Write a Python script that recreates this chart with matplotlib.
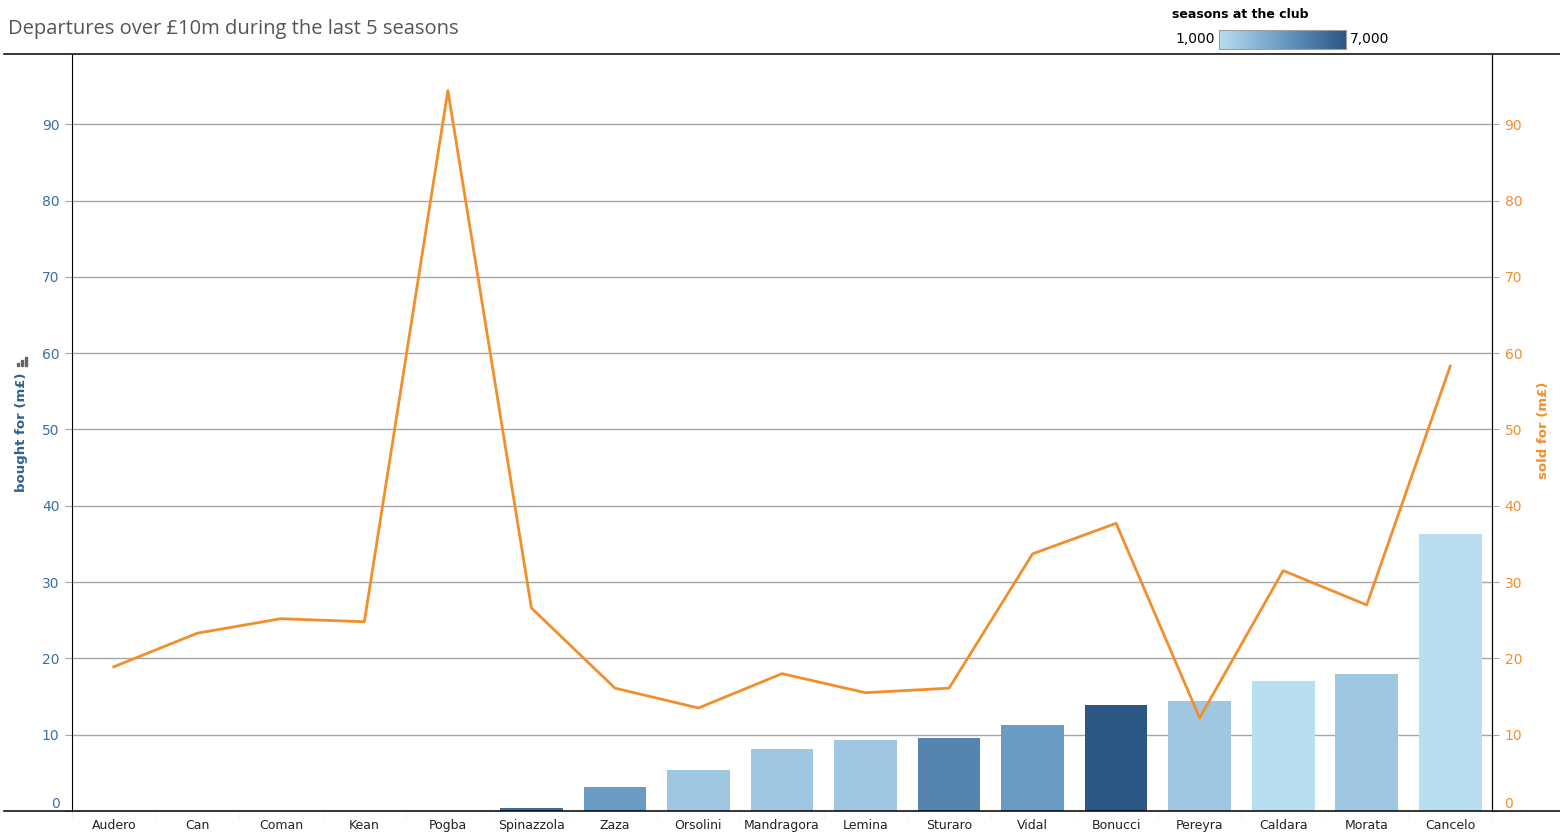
import numpy as np
import matplotlib
matplotlib.use('Agg')
import matplotlib.pyplot as plt
from matplotlib.colors import LinearSegmentedColormap, Normalize
from matplotlib.lines import Line2D
from matplotlib.patches import Rectangle

# Data
players = ['Audero', 'Can', 'Coman', 'Kean', 'Pogba', 'Spinazzola', 'Zaza', 'Orsolini',
           'Mandragora', 'Lemina', 'Sturaro', 'Vidal', 'Bonucci', 'Pereyra', 'Caldara',
           'Morata', 'Cancelo']
bought = [0, 0, 0, 0, 0, 0.4, 3.1, 5.4, 8.1, 9.3, 9.6, 11.3, 13.9, 14.4, 17.0, 18.0, 36.3]
sold = [18.9, 23.3, 25.2, 24.8, 94.4, 26.6, 16.1, 13.5, 18.0, 15.5, 16.1, 33.7, 37.7,
        12.2, 31.5, 27.0, 58.3]
seasons = [np.nan, np.nan, np.nan, np.nan, np.nan, 6000, 4000, 2000, 2000, 2000, 5000,
           4000, 7000, 2000, 1000, 2000, 1000]
yticks = [0, 10, 20, 30, 40, 50, 60, 70, 80, 90]

blue_txt = '#3b6fa6'
orange = '#f28e2b'
cmap = LinearSegmentedColormap.from_list('tab_blue', ['#b9ddf1', '#6a9bc3', '#2a5783'])
norm = Normalize(vmin=1000, vmax=7000)

W, H = 1560, 839
fig = plt.figure(figsize=(W / 100, H / 100), dpi=100)
ax = fig.add_axes([72 / W, 1 - 811 / H, (1492 - 72) / W, (811 - 54) / H])

x = np.arange(len(players))
colors = [cmap(norm(s)) if not np.isnan(s) else (0, 0, 0, 0) for s in seasons]
ax.bar(x, bought, width=0.75, color=colors, zorder=3)

ax.set_xlim(-0.5, len(players) - 0.5)
ax.set_ylim(0, 99.2)
ax.set_yticks(yticks)
ax.grid(axis='y', color='#a6a6a6', linewidth=1, zorder=0)
ax.set_xticks(x)
ax.set_xticklabels(players, fontsize=9, color='#222222')
ax.tick_params(axis='x', length=0, pad=6)
ax.set_xticks(np.arange(len(players) + 1) - 0.5, minor=True)
ax.tick_params(axis='x', which='minor', length=6, color='#f2f2f2')
ax.tick_params(axis='y', length=5, color='#a6a6a6', labelsize=10, labelcolor=blue_txt, pad=4)
for lbl in ax.get_yticklabels():
    if lbl.get_text() == '0':
        lbl.set_va('bottom')

for s in ['top', 'bottom']:
    ax.spines[s].set_visible(False)
ax.spines['left'].set_color('black')

ax2 = ax.twinx()
ax2.plot(x, sold, color=orange, linewidth=2.0, zorder=4)
ax2.set_ylim(ax.get_ylim())
ax2.set_yticks(yticks)
ax2.tick_params(axis='y', length=5, color='#a6a6a6', labelsize=10, labelcolor=orange, pad=4)
for lbl in ax2.get_yticklabels():
    if lbl.get_text() == '0':
        lbl.set_va('bottom')
for s in ['top', 'bottom', 'left']:
    ax2.spines[s].set_visible(False)
ax2.spines['right'].set_color('black')

# frame lines across the whole width
fig.add_artist(Line2D([4 / W, 1], [1 - 54 / H, 1 - 54 / H], color='black', linewidth=1.1))
fig.add_artist(Line2D([4 / W, 1], [1 - 811 / H, 1 - 811 / H], color='black', linewidth=1.1))

# title
fig.text(8 / W, 1 - 29 / H, 'Departures over £10m during the last 5 seasons',
         fontsize=14.5, color='#555555', va='center', ha='left', family='Open Sans')

# axis titles
fig.text(22 / W, 1 - 432 / H, 'bought for (m£)', rotation=90, fontsize=9.5,
         fontweight='bold', color='#2d5f91', ha='center', va='center')
fig.text(1543 / W, 1 - 430 / H, 'sold for (m£)', rotation=90, fontsize=9.5,
         fontweight='bold', color=orange, ha='center', va='center')
# small sort icon above left axis title
for i, h in enumerate([3, 6, 9]):
    fig.add_artist(Rectangle(((17 + i * 4) / W, 1 - 366 / H), 2 / W, h / H,
                             color='#666666', transform=fig.transFigure))

# colour legend
fig.text(1172 / W, 1 - 14 / H, 'seasons at the club', fontsize=9, fontweight='bold',
         color='black', va='center', ha='left')
cax = fig.add_axes([1219 / W, 1 - 49 / H, 127 / W, 19 / H])
cax.imshow(np.linspace(0, 1, 256).reshape(1, -1), aspect='auto', cmap=cmap)
cax.set_xticks([])
cax.set_yticks([])
for s in cax.spines.values():
    s.set_color('#a0a0a0')
fig.text(1215 / W, 1 - 39 / H, '1,000', fontsize=10, ha='right', va='center', color='black')
fig.text(1350 / W, 1 - 39 / H, '7,000', fontsize=10, ha='left', va='center', color='black')

fig.savefig('out.png', dpi=100)
